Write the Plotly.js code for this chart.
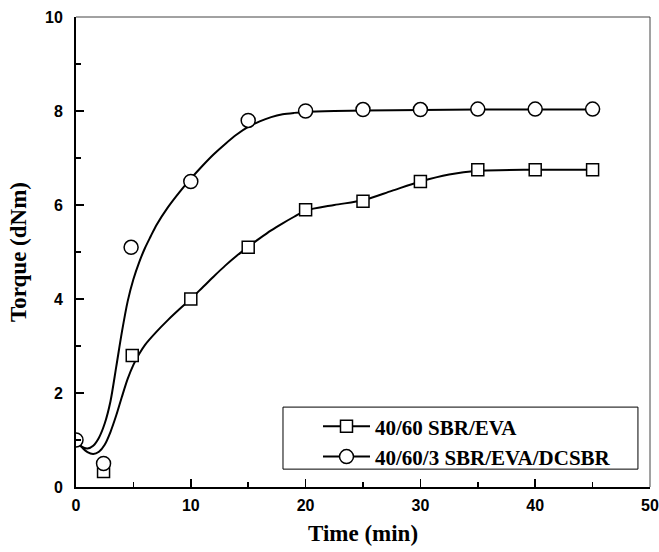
<!DOCTYPE html>
<html>
<head>
<meta charset="utf-8">
<script src="https://cdn.plot.ly/plotly-3.0.1.min.js"></script>
<style>html,body{margin:0;padding:0;background:#fff;}#chart{width:659px;height:552px;}</style>
</head>
<body>
<div id="chart"></div>
<script>
// Measured markers
const sbrEvaTime = [2.4, 4.9, 10, 15, 20, 25, 30, 35, 40, 45];
const sbrEvaTorque = [0.33, 2.8, 4.0, 5.1, 5.9, 6.08, 6.5, 6.75, 6.75, 6.75];
const dcsbrTime = [0, 2.4, 4.8, 10, 15, 20, 25, 30, 35, 40, 45];
const dcsbrTorque = [1.0, 0.5, 5.1, 6.5, 7.8, 8.0, 8.03, 8.03, 8.04, 8.04, 8.04];

// Smooth fitted curves
const sbrEvaFitTime = [0, 0.5, 1, 1.5, 2, 2.5, 3, 3.5, 4, 4.5, 5, 5.5, 6, 7, 8, 9, 10, 11, 12, 13, 14, 15, 16, 17, 18, 19, 20, 22.5, 25, 27.5, 30, 32.5, 35, 40, 45];
const sbrEvaFitTorque = [1.0, 0.85, 0.74, 0.70, 0.75, 0.9, 1.17, 1.52, 1.92, 2.3, 2.6, 2.83, 3.02, 3.3, 3.55, 3.78, 4.0, 4.24, 4.48, 4.71, 4.92, 5.11, 5.29, 5.46, 5.61, 5.75, 5.88, 6.0, 6.1, 6.3, 6.5, 6.65, 6.73, 6.75, 6.75];
const dcsbrFitTime = [0, 0.5, 1, 1.5, 2, 2.5, 3, 3.5, 4, 4.5, 5, 5.5, 6, 6.5, 7, 8, 9, 10, 11, 12, 13, 14, 15, 16, 17, 18, 19, 20, 22.5, 25, 30, 35, 40, 45];
const dcsbrFitTorque = [1.0, 0.86, 0.82, 0.88, 1.05, 1.35, 1.82, 2.55, 3.3, 3.95, 4.42, 4.78, 5.08, 5.33, 5.57, 5.95, 6.27, 6.56, 6.83, 7.08, 7.3, 7.5, 7.66, 7.78, 7.87, 7.93, 7.96, 7.98, 8.0, 8.01, 8.02, 8.03, 8.03, 8.03];

const seriesNames = ['40/60 SBR/EVA', '40/60/3 SBR/EVA/DCSBR'];
const xTicks = [0, 10, 20, 30, 40, 50];
const yTicks = [0, 2, 4, 6, 8, 10];

const lineStyle = {color: '#000', width: 2, shape: 'spline', smoothing: 0.8};
const traces = [
  {x: sbrEvaFitTime, y: sbrEvaFitTorque, mode: 'lines', line: lineStyle, showlegend: false, hoverinfo: 'skip'},
  {x: dcsbrFitTime, y: dcsbrFitTorque, mode: 'lines', line: lineStyle, showlegend: false, hoverinfo: 'skip'},
  {x: sbrEvaTime, y: sbrEvaTorque, mode: 'markers', showlegend: false,
   marker: {symbol: 'square', size: 12, color: '#fff', line: {color: '#000', width: 1.5}}},
  {x: dcsbrTime, y: dcsbrTorque, mode: 'markers', showlegend: false,
   marker: {symbol: 'circle', size: 14, color: '#fff', line: {color: '#000', width: 1.5}}},
  {x: [null], y: [null], name: seriesNames[0], mode: 'lines+markers', line: {color: '#000', width: 2},
   marker: {symbol: 'square', size: 12, color: '#fff', line: {color: '#000', width: 1.5}}},
  {x: [null], y: [null], name: seriesNames[1], mode: 'lines+markers', line: {color: '#000', width: 2},
   marker: {symbol: 'circle', size: 14, color: '#fff', line: {color: '#000', width: 1.5}}}
];

const tickFont = {family: 'Liberation Sans, Arial, sans-serif', size: 16, color: '#000', weight: 'bold'};
const titleFont = {family: 'Liberation Serif, Times New Roman, serif', size: 23, color: '#000', weight: 'bold'};

const layout = {
  width: 659, height: 552,
  margin: {l: 76, r: 9, t: 17, b: 65},
  paper_bgcolor: '#fff', plot_bgcolor: '#fff',
  showlegend: true,
  xaxis: {
    range: [0, 50], tickvals: xTicks, ticktext: xTicks.map(String),
    ticks: 'inside', ticklen: 8, tickwidth: 1.5, tickcolor: '#000',
    minor: {dtick: 5, ticks: 'inside', ticklen: 5, tickwidth: 1.5, tickcolor: '#000', showgrid: false},
    showgrid: false, zeroline: false, showline: true, linecolor: '#000', linewidth: 2,
    tickfont: tickFont, ticklabelstandoff: 3,
    title: {text: 'Time (min)', font: titleFont, standoff: 12}
  },
  yaxis: {
    range: [0, 10], tickvals: yTicks, ticktext: yTicks.map(String),
    ticks: 'inside', ticklen: 8, tickwidth: 1.5, tickcolor: '#000',
    minor: {dtick: 1, ticks: 'inside', ticklen: 5, tickwidth: 1.5, tickcolor: '#000', showgrid: false},
    showgrid: false, zeroline: false, showline: true, linecolor: '#000', linewidth: 2,
    tickfont: tickFont, ticklabelstandoff: 8,
    title: {text: 'Torque (dNm)', font: titleFont, standoff: 12}
  },
  legend: {
    x: 0.4216, y: 0.172, xanchor: 'left', yanchor: 'top',
    bgcolor: 'rgba(0,0,0,0)', bordercolor: 'rgba(0,0,0,0)', borderwidth: 0,
    font: {family: 'Liberation Serif, Times New Roman, serif', size: 21, color: '#000', weight: 'bold'},
    itemwidth: 47, tracegroupgap: 0
  },
  shapes: [
    {type: 'line', xref: 'paper', yref: 'paper', x0: 0, x1: 1, y0: 1, y1: 1, line: {color: '#444', width: 1}},
    {type: 'line', xref: 'paper', yref: 'paper', x0: 1, x1: 1, y0: 0, y1: 1, line: {color: '#444', width: 1}},
    {type: 'rect', xref: 'paper', yref: 'paper', x0: 0.3606, x1: 0.979, y0: 0.038, y1: 0.17, line: {color: '#000', width: 1}, layer: 'below'}
  ]
};

Plotly.newPlot('chart', traces, layout, {displayModeBar: false, staticPlot: true});
</script>
</body>
</html>
